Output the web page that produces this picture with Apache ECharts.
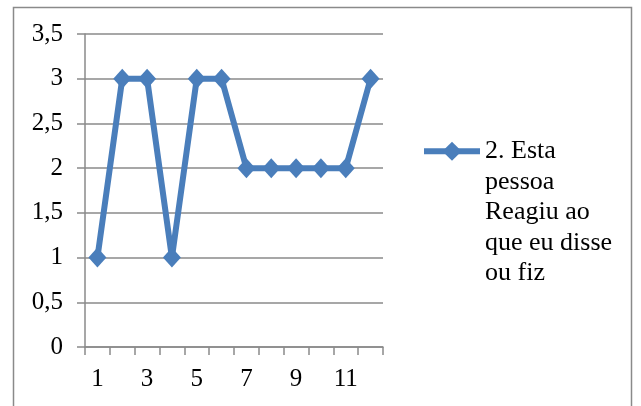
<!DOCTYPE html>
<html>
<head>
<meta charset="utf-8">
<script src="https://cdn.jsdelivr.net/npm/echarts@6/dist/echarts.min.js"></script>
<style>
  html, body { margin: 0; padding: 0; background: #fff; }
  #chart { width: 641px; height: 406px; }
</style>
</head>
<body>
<div id="chart"></div>
<script>
// Item numbers on the x axis and the answer given for each
var categories = ['1', '2', '3', '4', '5', '6', '7', '8', '9', '10', '11', '12'];
var seriesName = '2. Esta pessoa Reagiu ao que eu disse ou fiz';
var values = [1, 3, 3, 1, 3, 3, 2, 2, 2, 2, 2, 3];
var yMin = 0, yMax = 3.5, yStep = 0.5;

// The legend name wraps over five lines
var legendLines = ['2. Esta', 'pessoa', 'Reagiu ao', 'que eu disse', 'ou fiz'];

var FONT = "'Liberation Serif', 'Times New Roman', serif";
var GRAY = '#8a8a8a';
var BLUE = '#4A7EBB';
var LINE_H = 30.5;

var chart = echarts.init(document.getElementById('chart'), null, { renderer: 'canvas' });

chart.setOption({
  animation: false,
  backgroundColor: '#fff',
  graphic: [{
    type: 'rect',
    shape: { x: 13.5, y: 7.5, width: 618, height: 420 },
    style: { fill: 'none', stroke: GRAY, lineWidth: 1.5 },
    silent: true,
    z: -1
  }],
  grid: { left: 85, top: 34, right: 258, bottom: 59, containLabel: false },
  legend: {
    orient: 'vertical',
    left: 421,
    top: 14,
    padding: 0,
    itemWidth: 56,
    itemHeight: 24,
    data: [seriesName],
    lineStyle: { width: 6 },
    // blank lines above keep the icon level with the first text line
    formatter: function () { return '\n\n\n\n' + legendLines.join('\n'); },
    textStyle: {
      fontFamily: FONT,
      fontSize: 26,
      color: '#000',
      lineHeight: LINE_H
    }
  },
  xAxis: {
    type: 'category',
    data: categories,
    boundaryGap: true,
    axisLine: { show: true, lineStyle: { color: GRAY, width: 1.5 } },
    axisTick: { show: true, interval: 0, length: 8, lineStyle: { color: GRAY, width: 1.5 } },
    axisLabel: { interval: 1, margin: 20, fontFamily: FONT, fontSize: 25, color: '#000' },
    splitLine: { show: false }
  },
  yAxis: {
    type: 'value',
    min: yMin,
    max: yMax,
    interval: yStep,
    axisLine: { show: true, lineStyle: { color: GRAY, width: 1.5 } },
    axisTick: { show: true, length: 8, lineStyle: { color: GRAY, width: 1.5 } },
    axisLabel: {
      margin: 22,
      fontFamily: FONT,
      fontSize: 25,
      color: '#000',
      formatter: function (v) { return String(v).replace('.', ','); }
    },
    splitLine: { show: true, lineStyle: { color: GRAY, width: 1.5 } }
  },
  series: [{
    name: seriesName,
    type: 'line',
    data: values,
    symbol: 'diamond',
    symbolSize: [18, 20],
    showAllSymbol: true,
    lineStyle: { color: BLUE, width: 6 },
    itemStyle: { color: BLUE, borderColor: BLUE, borderWidth: 0 }
  }]
});
</script>
</body>
</html>
